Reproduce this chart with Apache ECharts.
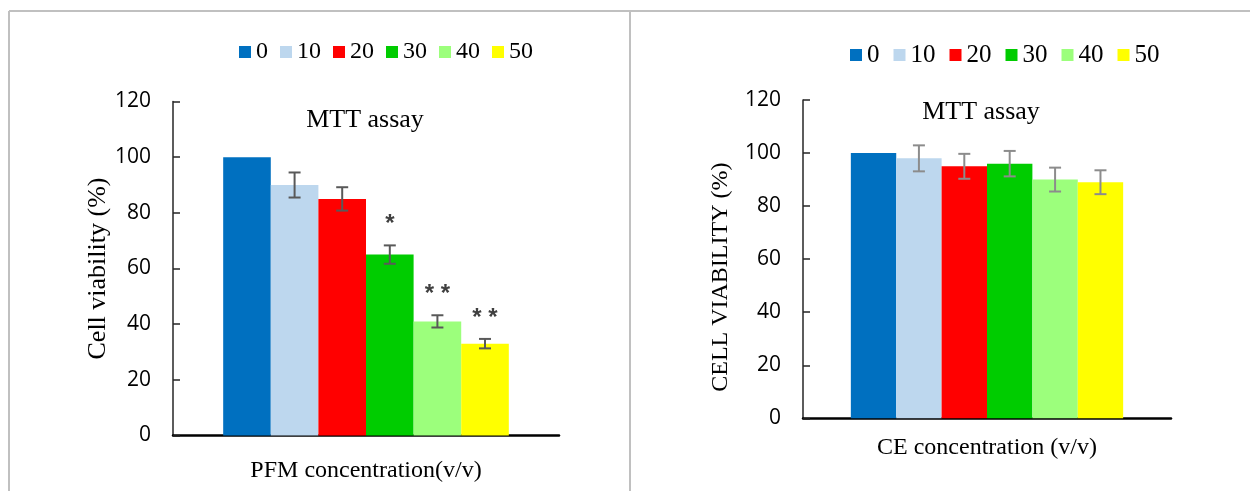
<!DOCTYPE html>
<html>
<head>
<meta charset="utf-8">
<script src="https://cdn.jsdelivr.net/npm/echarts@6/dist/echarts.min.js"></script>
<style>html,body{margin:0;padding:0;background:#fff;}#c{width:1250px;height:491px;}</style>
</head>
<body>
<div id="c"></div>
<script>
const concentrations = ['0', '10', '20', '30', '40', '50'];
const barColors = ['#0070C0', '#BDD7EE', '#FF0000', '#00CC00', '#9CFF7C', '#FFFF00'];
const pfmValues = [100, 90, 85, 65, 41, 33];
const pfmErrors = [0, 4.5, 4.2, 3.3, 2.2, 1.7];
const pfmStars = ['', '', '', '*', '* *', '* *'];
const ceValues = [100, 98, 95, 96, 90, 89];
const ceErrors = [0, 4.9, 4.7, 4.8, 4.5, 4.5];
const ceStars = ['', '', '', '', '', ''];
const yTicks = [0, 20, 40, 60, 80, 100, 120];

const GAP = 0.26;
const serif = "'Liberation Serif', 'Times New Roman', serif";
const sans = "'Open Sans', sans-serif";

function errSeries(gridIdx, values, errors, stars, color) {
  return {
    type: 'custom',
    xAxisIndex: gridIdx, yAxisIndex: gridIdx,
    z: 10, clip: false,
    encode: { x: 0, y: 1 },
    data: values.map((v, i) => [0, v, errors[i], i]),
    renderItem: function (params, api) {
      const v = api.value(1), e = api.value(2), idx = api.value(3);
      const base = api.coord([0, v]);
      const band = api.size([1, 0])[0];
      const bw = band * (1 - GAP) / 6;
      const cx = base[0] + (idx - 2.5) * bw;
      const children = [];
      const style = { stroke: color, lineWidth: 2 };
      let topY = base[1];
      if (e > 0) {
        const t = api.coord([0, v + e])[1];
        const b = api.coord([0, v - e])[1];
        topY = t;
        children.push({ type: 'line', shape: { x1: cx, y1: t, x2: cx, y2: b }, style: style });
        children.push({ type: 'line', shape: { x1: cx - 6, y1: t, x2: cx + 6, y2: t }, style: style });
        children.push({ type: 'line', shape: { x1: cx - 6, y1: b, x2: cx + 6, y2: b }, style: style });
      }
      const s = stars[params.dataIndex];
      if (s) {
        children.push({ type: 'text', x: cx, y: topY - 21,
          style: { text: s, fill: '#404040', font: "bold 24px 'Liberation Sans', sans-serif",
                   textAlign: 'center', textVerticalAlign: 'middle' } });
      }
      return { type: 'group', children: children };
    }
  };
}

function barSeries(gridIdx, values) {
  return concentrations.map((name, i) => ({
    name: name, type: 'bar',
    xAxisIndex: gridIdx, yAxisIndex: gridIdx,
    barGap: '0%', barCategoryGap: (GAP * 100) + '%',
    itemStyle: { color: barColors[i] },
    data: [values[i]]
  }));
}

function yAxis(gridIdx, name, nameSize, nameGap, namePad) {
  return {
    gridIndex: gridIdx, type: 'value', min: yTicks[0], max: yTicks[yTicks.length - 1], interval: 20,
    splitLine: { show: false },
    axisLine: { show: true, lineStyle: { color: '#262626', width: 1.5 } },
    axisTick: { show: true, inside: true, length: 7, lineStyle: { color: '#262626', width: 1.5 } },
    axisLabel: { fontFamily: sans, fontSize: 21, color: '#000', margin: 22 },
    name: name, nameLocation: 'middle', nameRotate: 90, nameGap: nameGap,
    nameTextStyle: { fontFamily: serif, fontSize: nameSize, color: '#000', padding: namePad }
  };
}

function xAxis(gridIdx, name, nameGap) {
  return {
    gridIndex: gridIdx, type: 'category', data: [name],
    axisLine: { show: true, lineStyle: { color: '#000', width: 2.5 } },
    axisTick: { show: false }, axisLabel: { show: false },
    name: name, nameLocation: 'middle', nameGap: nameGap,
    nameTextStyle: { fontFamily: serif, fontSize: 24, color: '#000' }
  };
}

const chart = echarts.init(document.getElementById('c'));
const frame = { stroke: '#c0c0c0', lineWidth: 2 };
chart.setOption({
  animation: false,
  backgroundColor: '#fff',
  legend: [
    { data: concentrations, left: 239, top: 40, padding: 0, icon: 'rect', itemWidth: 12, itemHeight: 12,
      itemGap: 12, textStyle: { fontFamily: serif, fontSize: 24, color: '#000' }, selectedMode: false },
    { data: concentrations, left: 850, top: 42.5, padding: 0, icon: 'rect', itemWidth: 12, itemHeight: 12,
      itemGap: 14, textStyle: { fontFamily: serif, fontSize: 25, color: '#000' }, selectedMode: false }
  ],
  grid: [
    { left: 173, top: 101.5, width: 386, height: 334 },
    { left: 803, top: 100, width: 368, height: 318.3 }
  ],
  xAxis: [xAxis(0, 'PFM concentration(v/v)', 23), xAxis(1, 'CE concentration (v/v)', 17)],
  yAxis: [yAxis(0, 'Cell viability (%)', 26, 59, 0), yAxis(1, 'CELL VIABILITY (%)', 24, 70, [0, 36, 0, 0])],
  graphic: [
    { type: 'line', shape: { x1: 9, y1: 11, x2: 1250, y2: 11 }, style: frame, silent: true },
    { type: 'line', shape: { x1: 9, y1: 11, x2: 9, y2: 491 }, style: frame, silent: true },
    { type: 'line', shape: { x1: 630, y1: 11, x2: 630, y2: 491 }, style: frame, silent: true },
    { type: 'text', x: 365, y: 120, style: { text: 'MTT assay', font: "26px 'Liberation Serif', serif",
      fill: '#000', textAlign: 'center', textVerticalAlign: 'middle' } },
    { type: 'text', x: 981, y: 112, style: { text: 'MTT assay', font: "26px 'Liberation Serif', serif",
      fill: '#000', textAlign: 'center', textVerticalAlign: 'middle' } }
  ],
  series: [
    ...barSeries(0, pfmValues),
    ...barSeries(1, ceValues),
    errSeries(0, pfmValues, pfmErrors, pfmStars, '#595959'),
    errSeries(1, ceValues, ceErrors, ceStars, '#8C8C8C')
  ]
});
</script>
</body>
</html>
